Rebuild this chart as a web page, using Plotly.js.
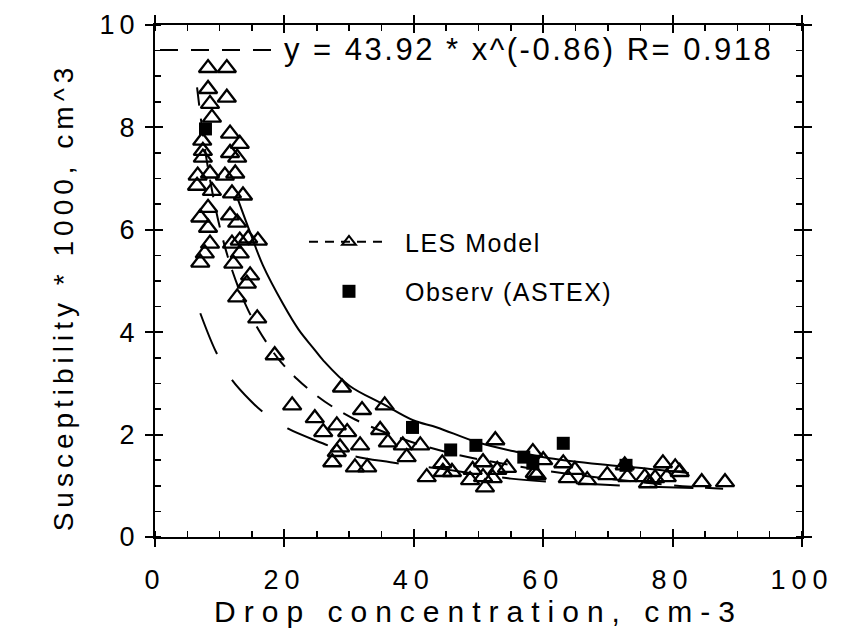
<!DOCTYPE html>
<html>
<head>
<meta charset="utf-8">
<script src="https://cdn.plot.ly/plotly-3.0.1.min.js"></script>
<style>
  html, body { margin: 0; padding: 0; background: #fff; }
  #chart { width: 841px; height: 640px; }
  .xtick text { letter-spacing: 6px; }
  .ytick text { letter-spacing: 5px; }
  .xtitle { letter-spacing: 8px; }
  .ytitle { letter-spacing: 5px; }
  .legendtext { letter-spacing: 1.5px; }
  .annotation-text { letter-spacing: 2.5px; }
  .scrollbox { clip-path: none !important; }
</style>
</head>
<body>
<div id="chart"></div>
<script>
// LES Model (open triangles)
const lesX = [8.2, 11.1, 8.2, 11.1, 8.5, 8.8, 11.6, 7.3, 13.1, 7.4, 11.6, 7.4, 12.7, 6.6, 8.5, 10.8, 12.4, 6.5, 8.8, 11.9,
  13.6, 8.2, 7.0, 11.6, 8.2, 12.7, 11.9, 13.1, 14.4, 15.9, 8.5, 7.7, 7.0, 13.1, 12.1, 14.7, 14.2, 12.7, 15.8,
  18.5, 28.9, 21.2, 32.0, 35.5, 24.7, 28.1, 26.0, 29.7, 34.8, 36.0, 38.3, 41.0, 28.6, 31.7, 38.9, 27.4, 30.9, 32.8, 28.1,
  42.0, 44.4, 44.5, 45.9, 52.6, 50.7, 49.1, 50.7, 52.2, 51.0, 48.7, 52.9, 54.4, 58.4, 58.7, 60.0, 59.0, 63.1, 63.8,
  64.9, 66.8, 69.9, 72.6, 73.0, 75.7, 76.2, 78.5, 79.1, 80.4, 81.1, 77.3, 84.5, 88.1];
const lesY = [9.16, 9.16, 8.75, 8.58, 8.46, 8.19, 7.88, 7.74, 7.68, 7.54, 7.50, 7.41, 7.41, 7.06, 7.10, 7.06, 7.10, 6.86, 6.76, 6.71,
  6.67, 6.43, 6.24, 6.28, 6.04, 6.14, 5.73, 5.79, 5.83, 5.79, 5.73, 5.54, 5.36, 5.54, 5.34, 5.11, 4.95, 4.68, 4.27,
  3.55, 2.92, 2.57, 2.48, 2.57, 2.32, 2.18, 2.05, 2.05, 2.09, 1.85, 1.79, 1.79, 1.75, 1.79, 1.56, 1.46, 1.36, 1.36, 1.66,
  1.17, 1.44, 1.27, 1.27, 1.89, 1.46, 1.31, 1.17, 1.15, 0.97, 1.11, 1.31, 1.35, 1.66, 1.25, 1.50, 1.21, 1.44, 1.15,
  1.31, 1.11, 1.21, 1.40, 1.17, 1.17, 1.05, 1.44, 1.17, 1.36, 1.27, 1.15, 1.07, 1.07];

// Observ (ASTEX) (filled squares)
const obsX = [7.8, 39.8, 45.7, 49.6, 57.0, 58.4, 63.1, 72.8];
const obsY = [7.97, 2.14, 1.70, 1.79, 1.56, 1.44, 1.83, 1.40];

// Power-law fit curve (dashed)
const fitX = [6.5, 8, 10, 12, 14, 16, 19, 22, 25, 28, 31, 35, 40, 45, 50, 60, 70, 80, 88];
const fitY = [8.78, 7.35, 6.06, 5.18, 4.54, 4.05, 3.49, 3.08, 2.76, 2.50, 2.29, 2.07, 1.84, 1.66, 1.52, 1.30, 1.14, 1.01, 0.94];

// Upper solid curve
const upperX = [12.8, 14.7, 16.7, 19.8, 22.2, 24.4, 26.0, 30.1, 35.2, 39.9, 43.6, 49.8, 56.0, 61.0, 68.8, 76.5, 82.5];
const upperY = [6.6, 5.95, 5.3, 4.55, 4.05, 3.7, 3.45, 2.95, 2.6, 2.28, 2.14, 1.85, 1.66, 1.54, 1.42, 1.33, 1.25];

// Lower long-dash curve
const lowerX = [7.0, 9.3, 11.6, 14.7, 16.7, 20.5, 26.7, 30.2, 36.4, 45, 55, 65, 75, 85];
const lowerY = [4.37, 3.65, 3.12, 2.67, 2.44, 2.12, 1.79, 1.60, 1.46, 1.32, 1.14, 1.05, 0.99, 0.95];

const xTicks = [0, 20, 40, 60, 80, 100];
const yTicks = [0, 2, 4, 6, 8, 10];

const fitLabel = 'y = 43.92 * x^(-0.86) R= 0.918';
const FONT = '"Liberation Sans", Arial, Helvetica, sans-serif';

const traces = [
  { x: upperX, y: upperY, mode: 'lines', line: { color: '#000', width: 2, shape: 'spline' }, showlegend: false, hoverinfo: 'skip' },
  { x: lowerX, y: lowerY, mode: 'lines', xaxis: 'x2', yaxis: 'y2',
    line: { color: '#000', width: 2, dash: '44px,30px', shape: 'spline' }, showlegend: false, hoverinfo: 'skip' },
  { x: fitX, y: fitY, mode: 'lines', name: '\u00a0', legend: 'legend2',
    line: { color: '#000', width: 2, dash: '18px,13px', shape: 'spline' }, showlegend: true },
  { x: lesX, y: lesY, mode: 'markers', name: 'LES Model', showlegend: false,
    marker: { symbol: 'triangle-up-open', size: 16, color: '#000', line: { width: 2.3, color: '#000' } } },
  { x: [null], y: [null], mode: 'lines+markers', name: 'LES Model', legendgroup: 'a',
    line: { color: '#000', width: 2, dash: '9px,7px' },
    marker: { symbol: 'triangle-up-open', size: 12, color: '#000', line: { width: 2, color: '#000' } } },
  { x: obsX, y: obsY, mode: 'markers', name: 'Observ (ASTEX)', legendgroup: 'b',
    marker: { symbol: 'square', size: 13, color: '#000', line: { width: 0 } } }
];

const axBase = {
  showline: true, linecolor: '#000', linewidth: 2,
  ticks: 'outside', ticklen: 8, tickwidth: 2, tickcolor: '#000',
  mirror: 'allticks', showgrid: false, zeroline: false,
  tickfont: { family: FONT, size: 27, color: '#000' }
};

const layout = {
  width: 841, height: 640,
  margin: { l: 155, r: 39, t: 25, b: 103 },
  paper_bgcolor: '#fff', plot_bgcolor: '#fff',
  font: { family: FONT, color: '#000' },
  xaxis: Object.assign({}, axBase, {
    range: [0, 100], tickvals: xTicks, ticktext: xTicks.map(String),
    minor: { dtick: 5, ticks: 'inside', ticklen: 6, tickwidth: 1.5, tickcolor: '#000', showgrid: false },
    ticklabelstandoff: 10,
    title: { text: 'Drop concentration, cm-3', font: { family: FONT, size: 30, color: '#000' }, standoff: 6 }
  }),
  yaxis: Object.assign({}, axBase, {
    range: [0, 10], tickvals: yTicks, ticktext: yTicks.map(String),
    minor: { dtick: 0.5, ticks: 'inside', ticklen: 6, tickwidth: 1.5, tickcolor: '#000', showgrid: false },
    ticklabelstandoff: 0,
    title: { text: 'Susceptibility * 1000, cm^3', font: { family: FONT, size: 28, color: '#000' }, standoff: 18 }
  }),
  xaxis2: { overlaying: 'x', anchor: 'y2', range: [0, 100], tickvals: xTicks, ticks: 'inside', ticklen: 8, tickwidth: 2,
    tickcolor: '#000', showticklabels: false, mirror: 'ticks', showline: false, showgrid: false, zeroline: false },
  yaxis2: { overlaying: 'y', anchor: 'x2', range: [0, 10], tickvals: yTicks, ticks: 'inside', ticklen: 8, tickwidth: 2,
    tickcolor: '#000', showticklabels: false, mirror: 'ticks', showline: false, showgrid: false, zeroline: false },
  legend: {
    x: 0.238, y: 0.621, xanchor: 'left', yanchor: 'top',
    bgcolor: 'rgba(0,0,0,0)', borderwidth: 0, traceorder: 'grouped',
    font: { family: FONT, size: 25, color: '#000' },
    tracegroupgap: 14, itemwidth: 86
  },
  legend2: {
    x: 0.0, y: 1.002, xanchor: 'left', yanchor: 'top',
    bgcolor: 'rgba(0,0,0,0)', borderwidth: 0, itemwidth: 115,
    font: { family: FONT, size: 30, color: '#000' }
  },
  annotations: [{
    xref: 'paper', yref: 'paper', x: 0.197, y: 0.952, xanchor: 'left', yanchor: 'middle',
    text: fitLabel, showarrow: false, font: { family: FONT, size: 31, color: '#000' }
  }],
  showlegend: true
};

Plotly.newPlot('chart', traces, layout, { displayModeBar: false, staticPlot: true }).then(function (gd) {
  gd.querySelectorAll('.scrollbox').forEach(function (n) { n.removeAttribute('clip-path'); });
  gd.querySelectorAll('.legendtext').forEach(function (t) {
    var g = t.parentNode;
    var isFit = !/[A-Za-z]/.test(t.textContent || '');
    if (!g) return;
    g.querySelectorAll('.legendlines path').forEach(function (p) {
      p.setAttribute('d', isFit ? 'M0,0h104' : 'M0,0h78');
    });
    if (!isFit) {
      g.querySelectorAll('.legendpoints path').forEach(function (p) {
        p.setAttribute('transform', 'translate(40,0)');
      });
    }
  });
  var yt = gd.querySelector('.ytitle');
  if (yt) {
    var x0 = parseFloat(yt.getAttribute('x'));
    if (!isNaN(x0)) yt.setAttribute('x', x0 - 16);
  }
});
</script>
</body>
</html>
